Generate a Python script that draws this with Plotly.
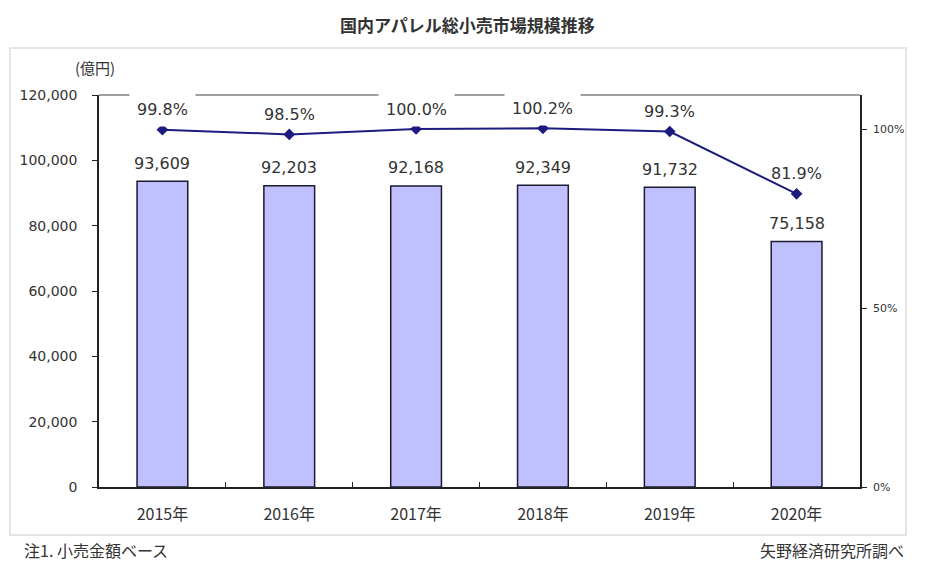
import plotly.graph_objects as go

years = ["2015年", "2016年", "2017年", "2018年", "2019年", "2020年"]
market = [93609, 92203, 92168, 92349, 91732, 75158]
ratio = [99.8, 98.5, 100.0, 100.2, 99.3, 81.9]
ratio_labels = ["99.8%", "98.5%", "100.0%", "100.2%", "99.3%", "81.9%"]

NUM_FONT = "DejaVu Sans"
JP_FONT = "Noto Sans CJK JP"
TXT = "#333333"

# page layout (pixels); the page body adds an 8px offset
OFF = 8
PL, PR, PT, PB = 99, 860, 95, 487   # plot area in page pixels
W, H = 934 - OFF, 577 - OFF
L, T = PL - OFF, PT - OFF
R = OFF + W - PR
B = OFF + H - PB
pw, ph = PR - PL, PB - PT


def px(x):
    return (x - PL) / pw


def py(y):
    return (PB - y) / ph


fig = go.Figure()
fig.add_trace(go.Bar(
    x=years, y=market, width=0.4,
    marker=dict(color="#C0C0FF", line=dict(color="#1a1a30", width=1.5)),
    showlegend=False, hoverinfo="skip",
))
fig.add_trace(go.Scatter(
    x=years, y=ratio, yaxis="y2", mode="lines+markers",
    line=dict(color="#1c1c80", width=2),
    marker=dict(symbol="diamond", size=9, color="#1c1c80"),
    showlegend=False, hoverinfo="skip", cliponaxis=False,
))

annotations = []
for x, v in zip(years, market):
    annotations.append(dict(
        x=x, y=v, xref="x", yref="y", text=f"{v:,}", showarrow=False,
        yshift=18, yanchor="middle", font=dict(family=NUM_FONT, size=16, color=TXT),
    ))
for x, y, t in zip(years, ratio, ratio_labels):
    # labels sitting on the top border get a white box that breaks the border line
    near_top = y >= 99.5
    annotations.append(dict(
        x=x, y=y, xref="x", yref="y2", text=t, showarrow=False,
        yshift=20, yanchor="middle", font=dict(family=NUM_FONT, size=16, color=TXT),
        bgcolor="white" if near_top else "rgba(0,0,0,0)", borderpad=7,
    ))
annotations += [
    dict(text="<b>国内アパレル総小売市場規模推移</b>", x=px(467), y=py(24), xref="paper", yref="paper",
         showarrow=False, font=dict(family=JP_FONT, size=17, color=TXT),
         xanchor="center", yanchor="middle"),
    dict(text="(億円)", x=px(95), y=py(68), xref="paper", yref="paper", showarrow=False,
         font=dict(family=JP_FONT, size=15, color=TXT), xanchor="center", yanchor="middle"),
    dict(text="注1. 小売金額ベース", x=px(22), y=py(550), xref="paper", yref="paper", showarrow=False,
         font=dict(family=JP_FONT, size=16, color=TXT), xanchor="left", yanchor="middle"),
    dict(text="矢野経済研究所調べ", x=px(906), y=py(550), xref="paper", yref="paper", showarrow=False,
         font=dict(family=JP_FONT, size=16, color=TXT), xanchor="right", yanchor="middle"),
]

shapes = [
    dict(type="rect", xref="paper", yref="paper", x0=px(10), x1=px(906), y0=py(535), y1=py(48),
         line=dict(color="#e4e4e4", width=2), layer="below"),
    dict(type="line", xref="paper", yref="paper", x0=0, x1=1, y0=1, y1=1,
         line=dict(color="#a0a0a0", width=2), layer="above"),
]

fig.update_layout(
    width=W, height=H,
    margin=dict(l=L, r=R, t=T, b=B, pad=0),
    paper_bgcolor="white", plot_bgcolor="white",
    annotations=annotations, shapes=shapes,
    xaxis=dict(
        type="category", showline=True, linecolor="#222222", linewidth=1.5,
        ticks="inside", tickson="boundaries", ticklen=5, tickcolor="#222222",
        tickfont=dict(family=JP_FONT, size=16, color=TXT), ticklabelstandoff=12,
        showgrid=False, zeroline=False,
    ),
    yaxis=dict(
        range=[0, 120000], dtick=20000, tickformat=",", showline=True,
        linecolor="#222222", linewidth=1.5, ticks="outside", ticklen=5, tickcolor="#222222",
        tickfont=dict(family=NUM_FONT, size=14, color=TXT), showgrid=False, zeroline=False,
        ticklabelstandoff=12,
    ),
    yaxis2=dict(
        overlaying="y", side="right", range=[0, 109.5], tickvals=[0, 50, 100],
        ticktext=["0%", "50%", "100%"], showline=True, linecolor="#222222", linewidth=1.5,
        ticks="outside", ticklen=5, tickcolor="#222222",
        tickfont=dict(family=NUM_FONT, size=11, color=TXT), showgrid=False, zeroline=False,
        ticklabelstandoff=4,
    ),
)

fig.write_html("out.html")
